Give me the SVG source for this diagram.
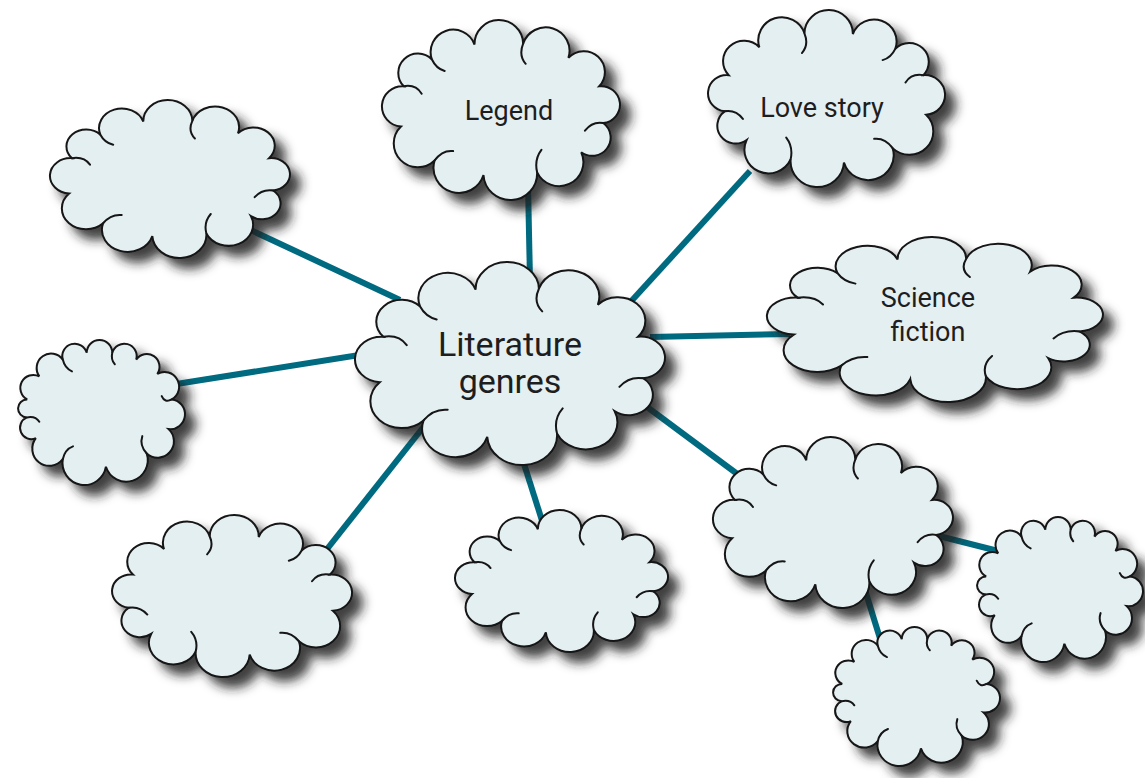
<svg xmlns="http://www.w3.org/2000/svg" xmlns:xlink="http://www.w3.org/1999/xlink" width="1145" height="778" viewBox="0 0 1145 778">
<style>
.cloud{fill:#e4eff2;stroke:#151515;stroke-width:2;vector-effect:non-scaling-stroke;stroke-linejoin:miter}
.curl{fill:none;stroke:#151515;stroke-width:2;vector-effect:non-scaling-stroke;stroke-linecap:round}
.shadowed{filter:url(#shadow)}
#connectors line{stroke:#006a80;stroke-width:6;stroke-linecap:butt}
text{font-family:Roboto,"Liberation Sans",sans-serif;fill:#1e1e1e;text-anchor:middle}
.lbl{font-size:27px}
.big{font-size:34px}
</style>
<defs>
<filter id="shadow" x="-10%" y="-10%" width="130%" height="135%">
<feDropShadow dx="10" dy="10" stdDeviation="5.5" flood-color="#1c1c1c" flood-opacity="0.85"/>
</filter>
<g id="cloudA">
<path class="cloud" d="M-80.8 -19.2 A1 1 0 0 1 -57.5 -41.6 A1 1 0 0 1 -22.3 -54.1 A1 1 0 0 1 17.9 -54.8 A1 1 0 0 1 55.3 -42.9 A1 1 0 0 1 80.8 -19.2 A1 1 0 0 1 84.1 11.6 A1 1 0 0 1 65.9 36 A1 1 0 0 1 29.4 52.6 A1 1 0 0 1 -14.9 55.1 A1 1 0 0 1 -55.3 42.9 A1 1 0 0 1 -83.1 14.5 A1 1 0 0 1 -80.8 -19.2 Z"/>
<path class="curl" d="M-80.8 -19.2 Q-71 -21 -66 -13 M17.9 -54.8 Q14 -45 20 -38 M84.1 11.6 Q75 10 69 18 M29.4 52.6 Q27 42 33 34 M-55.3 42.9 Q-49 34 -40 35 M-57.5 -41.6 Q-54 -34 -47 -32"/>
</g>
<g id="cloudB">
<path class="cloud" d="M-70.9 -9.7 A1 1 0 0 1 -59 -32.1 A1 1 0 0 1 -36 -48.5 A1 1 0 0 1 -12.5 -55.1 A1 1 0 0 1 12.5 -55.1 A1 1 0 0 1 36 -48.5 A1 1 0 0 1 56.7 -34.5 A1 1 0 0 1 70.9 -9.7 A1 1 0 0 1 67.7 19.2 A1 1 0 0 1 46.3 42.9 A1 1 0 0 1 6.3 55.8 A1 1 0 0 1 -36 48.5 A1 1 0 0 1 -62.4 28 A1 1 0 0 1 -71.3 7.8 A1 1 0 0 1 -70.9 -9.7 Z"/>
<path class="curl" d="M-36 -48.5 Q-34 -40 -27 -37 M46.3 42.9 Q39 35 42 26 M-36 48.5 Q-34 39 -26 36 M-71.3 7.8 Q-63 6 -59 12 M70.9 -9.7 Q64 -6 61 -13 M12.5 -55.1 Q11 -48 15 -44"/>
</g>
</defs>
<rect width="1145" height="778" fill="#ffffff"/>
<g id="connectors">
<line x1="240" y1="225" x2="400" y2="300"/>
<line x1="528" y1="185" x2="530" y2="280"/>
<line x1="750" y1="171" x2="625" y2="308"/>
<line x1="650" y1="337" x2="790" y2="334"/>
<line x1="170" y1="385" x2="372" y2="353"/>
<line x1="320" y1="558" x2="425" y2="425"/>
<line x1="518" y1="445" x2="545" y2="530"/>
<line x1="635" y1="398" x2="740" y2="476"/>
<line x1="935" y1="535" x2="1010" y2="554"/>
<line x1="865" y1="590" x2="882" y2="645"/>
</g>
<g id="node-topleft"><g class="shadowed"><use xlink:href="#cloudA" href="#cloudA" transform="translate(170.5 178.3) scale(1.2198 1.0491)"/></g></g>
<g id="node-legend"><g class="shadowed"><use xlink:href="#cloudA" href="#cloudA" transform="translate(501.5 109.2) scale(1.2097 1.1952)"/></g><text class="lbl" x="509" y="120">Legend</text></g>
<g id="node-lovestory"><g class="shadowed"><use xlink:href="#cloudA" href="#cloudA" transform="translate(826 97.7) scale(-1.2046 1.1753)"/></g><text class="lbl" x="822" y="117">Love story</text></g>
<g id="node-scifi"><g class="shadowed"><use xlink:href="#cloudA" href="#cloudA" transform="translate(935.7 318.7) scale(1.7078 1.0956)"/></g><text class="lbl" x="928" y="307">Science</text><text class="lbl" x="928" y="341">fiction</text></g>
<g id="node-leftmid"><g class="shadowed"><use xlink:href="#cloudB" href="#cloudB" transform="translate(99.5 409.4) scale(1.0198 1.0269)"/></g></g>
<g id="node-bottomleft"><g class="shadowed"><use xlink:href="#cloudA" href="#cloudA" transform="translate(231.5 595.2) scale(-1.2198 1.0757)"/></g></g>
<g id="node-bottommid"><g class="shadowed"><use xlink:href="#cloudA" href="#cloudA" transform="translate(562 580.3) scale(1.0826 0.9429)"/></g></g>
<g id="node-rightbig"><g class="shadowed"><use xlink:href="#cloudA" href="#cloudA" transform="translate(833.5 521.7) scale(1.2198 1.1355)"/></g></g>
<g id="node-rightsmall"><g class="shadowed"><use xlink:href="#cloudB" href="#cloudB" transform="translate(1058 586.4) scale(1.0137 1.0269)"/></g></g>
<g id="node-bottomright"><g class="shadowed"><use xlink:href="#cloudB" href="#cloudB" transform="translate(914.5 693.5) scale(1.0198 0.9844)"/></g></g>
<g id="node-center"><g class="shadowed"><use xlink:href="#cloudA" href="#cloudA" transform="translate(510.7 362.6) scale(1.5756 1.348)"/></g><text class="big" x="510" y="356">Literature</text><text class="big" x="510" y="393">genres</text></g>
</svg>
